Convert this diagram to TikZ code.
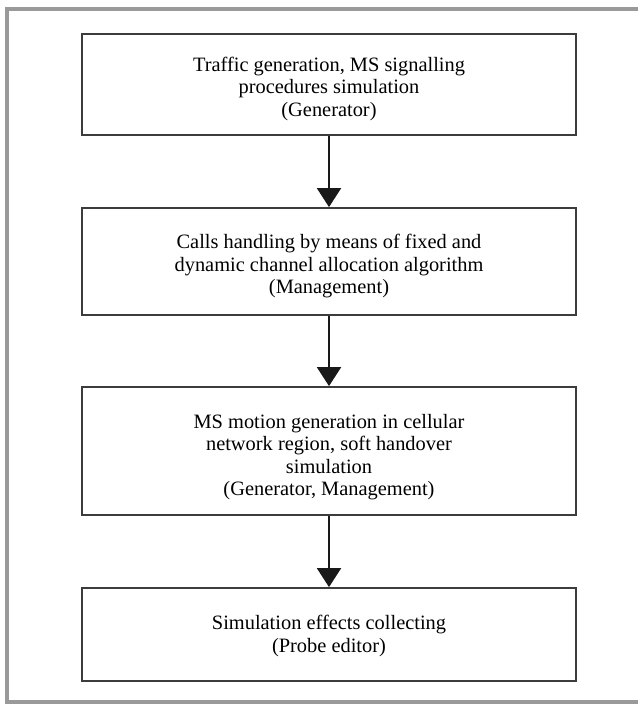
\documentclass[tikz,border=0pt]{standalone}
\usepackage{fontspec}
\setmainfont{Liberation Serif}
\usetikzlibrary{arrows.meta}
\definecolor{framegray}{HTML}{9A9A9A}
\definecolor{boxline}{HTML}{3C3C3C}
\begin{document}
\begin{tikzpicture}[x=1pt,y=-1pt,
  stagebox/.style={draw=boxline, line width=1.8pt, rectangle,
    minimum width=494pt, inner sep=0pt},
  stagetext/.style={align=center, inner sep=0pt,
    font=\fontsize{20.4}{22.5}\selectfont},
  flow/.style={draw=black!90, line width=2pt,
    -{Triangle[width=24pt,length=19pt]}}]
  \useasboundingbox (0,0) rectangle (638,704);
  % grey frame, open on the right
  \draw[framegray, line width=4.5pt] (638,9) -- (7,9) -- (7,702) -- (638,702);
  % stage frames
  \node[stagebox, minimum height=101pt] (b1) at (329,84.5) {};
  \node[stagebox, minimum height=107pt] (b2) at (329,261.5) {};
  \node[stagebox, minimum height=128pt] (b3) at (329,451) {};
  \node[stagebox, minimum height=93pt]  (b4) at (329,634.5) {};
  % stage descriptions
  \node[stagetext] (t1) at ([yshift=-4pt]b1.center)
    {Traffic generation, MS signalling\\procedures simulation\\(Generator)};
  \node[stagetext] (t2) at ([yshift=-5pt]b2.center)
    {Calls handling by means of fixed and\\dynamic channel allocation algorithm\\(Management)};
  \node[stagetext] (t3) at ([yshift=-6pt]b3.center)
    {MS motion generation in cellular\\network region, soft handover\\simulation\\(Generator, Management)};
  \node[stagetext] (t4) at ([yshift=-1.5pt]b4.center)
    {Simulation effects collecting\\(Probe editor)};
  % flow arrows
  \draw[flow] (b1.south) -- (b2.north);
  \draw[flow] (b2.south) -- (b3.north);
  \draw[flow] (b3.south) -- (b4.north);
\end{tikzpicture}
\end{document}
